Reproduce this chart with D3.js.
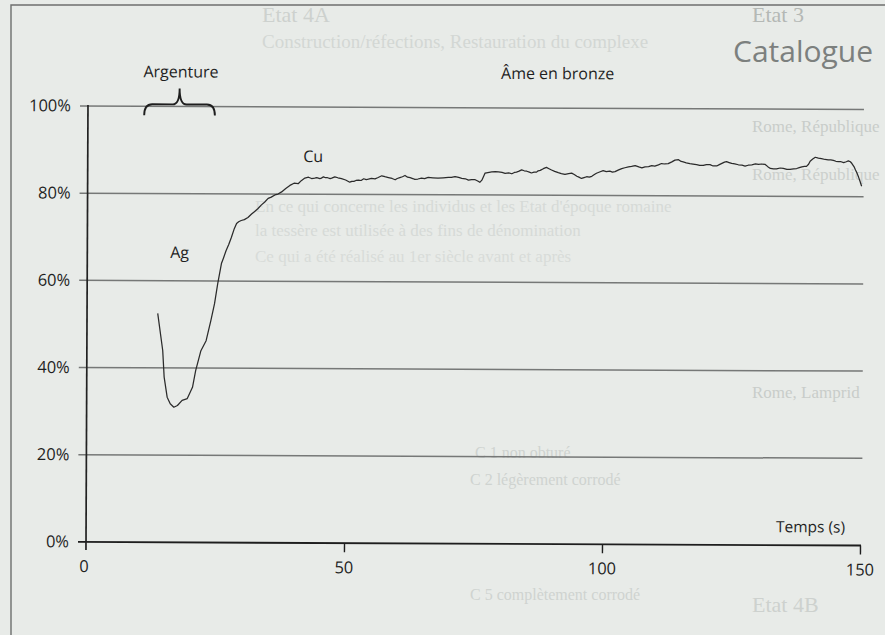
<!DOCTYPE html>
<html>
<head>
<meta charset="utf-8">
<script src="https://cdn.jsdelivr.net/npm/d3@7/dist/d3.min.js"></script>
<style>
  html, body { margin: 0; padding: 0; background: #e8ebe8; }
  svg { display: block; }
</style>
</head>
<body>
<div id="chart"></div>
<script>
// ── Data ───────────────────────────────────────────────────────────────────
const TIME = [
  13.7, 14.7, 15.0, 15.6, 16.2, 16.9, 17.6, 18.5, 19.5, 20.5,
  21.1, 22.1, 23.1, 24.0, 24.7, 25.3, 26.0, 26.4, 26.9, 27.4,
  27.9, 28.4, 28.9, 29.3, 29.8, 30.4, 31.1, 31.8, 32.4, 33.0,
  33.7, 34.3, 35.0, 35.6, 36.3, 36.9, 37.6, 38.4, 39.2, 40.0,
  40.8, 41.4, 42.1, 42.8, 43.4, 44.0, 44.4, 45.0, 45.3, 45.7,
  46.1, 46.5, 47.0, 47.3, 47.9, 48.5, 49.2, 50.0, 50.8, 51.2,
  51.6, 52.0, 52.5, 53.0, 53.5, 54.0, 54.4, 55.0, 55.7, 56.3,
  57.0, 57.6, 58.3, 59.0, 59.6, 60.0, 60.5, 61.0, 61.5, 62.0,
  62.5, 63.0, 63.4, 64.0, 64.7, 65.3, 66.0, 66.9, 67.9, 68.9,
  69.9, 70.5, 71.2, 71.9, 72.5, 73.2, 73.8, 74.4, 75.1, 75.6,
  76.0, 76.4, 76.7, 77.0, 77.3, 78.3, 79.0, 79.6, 80.3, 80.9,
  81.6, 82.2, 82.7, 83.1, 83.6, 84.1, 84.6, 85.1, 85.6, 86.0,
  86.5, 87.0, 87.3, 87.7, 88.3, 88.9, 89.4, 89.9, 90.5, 91.2,
  91.8, 92.5, 93.2, 93.8, 94.3, 94.8, 95.2, 95.7, 96.2, 96.7,
  97.2, 97.7, 98.2, 98.6, 99.2, 99.9, 100.5, 101.2, 101.7, 102.2,
  102.9, 103.5, 104.1, 104.8, 105.4, 106.1, 106.8, 107.4, 108.0, 108.7,
  109.3, 109.9, 110.6, 111.2, 111.8, 112.5, 113.2, 113.8, 114.5, 115.0,
  115.4, 116.0, 116.7, 117.3, 118.0, 118.6, 119.3, 119.9, 120.6, 121.2,
  121.9, 122.4, 122.9, 123.4, 123.8, 124.3, 124.8, 125.4, 126.1, 126.8,
  127.4, 128.0, 128.7, 129.4, 130.0, 130.6, 131.3, 131.8, 132.3, 132.9,
  133.5, 134.2, 134.8, 135.5, 136.1, 136.8, 137.4, 137.9, 138.4, 138.9,
  139.3, 139.7, 140.0, 140.5, 141.0, 141.6, 142.2, 142.9, 143.5, 144.0,
  144.5, 145.0, 145.5, 146.0, 146.5, 147.0, 147.4, 147.8, 148.1, 148.5,
  148.8, 149.1, 149.4, 149.7, 150.0,
];
const PCT = [
  52.5, 44.0, 37.9, 33.3, 31.8, 31.0, 31.4, 32.6, 33.0, 35.6,
  39.4, 44.0, 46.3, 50.9, 54.8, 59.4, 64.0, 65.3, 67.0, 68.4,
  70.0, 71.8, 73.2, 73.6, 73.9, 74.1, 74.6, 75.4, 76.0, 76.6,
  77.5, 78.1, 79.0, 79.3, 79.8, 80.0, 80.5, 81.3, 82.0, 82.5,
  82.4, 83.1, 83.7, 83.9, 83.6, 83.7, 83.8, 83.6, 83.7, 84.0,
  83.8, 83.8, 83.6, 83.7, 84.0, 83.8, 83.6, 83.3, 82.8, 83.0,
  83.0, 83.2, 83.3, 83.2, 83.6, 83.4, 83.5, 83.7, 83.6, 83.9,
  84.3, 84.1, 83.9, 83.7, 83.4, 83.7, 83.9, 84.1, 84.4, 84.0,
  83.9, 83.7, 83.5, 83.6, 83.8, 83.7, 84.0, 83.9, 83.8, 83.9,
  84.0, 84.0, 84.2, 84.0, 83.8, 83.7, 83.4, 83.5, 83.5, 83.2,
  82.9, 83.4, 84.2, 85.0, 85.1, 85.3, 85.4, 85.3, 85.2, 85.0,
  85.1, 84.9, 85.2, 85.3, 85.5, 85.8, 85.6, 85.5, 85.3, 85.1,
  85.3, 85.3, 85.6, 85.7, 86.1, 86.4, 86.1, 85.8, 85.5, 85.2,
  85.0, 84.8, 85.0, 85.1, 84.8, 84.4, 84.2, 83.9, 84.1, 84.3,
  84.2, 84.4, 84.8, 85.1, 85.4, 85.7, 85.5, 85.6, 85.4, 85.5,
  85.9, 86.2, 86.4, 86.6, 86.7, 86.9, 86.6, 86.4, 86.6, 86.7,
  86.9, 86.8, 87.1, 87.4, 87.3, 87.4, 87.8, 88.2, 88.3, 87.9,
  87.8, 87.6, 87.4, 87.3, 87.2, 87.0, 87.0, 87.2, 87.2, 86.9,
  86.9, 87.2, 87.5, 87.8, 87.9, 87.7, 87.5, 87.4, 87.2, 87.1,
  86.9, 87.1, 87.2, 87.4, 87.3, 87.4, 87.3, 86.8, 86.4, 86.3,
  86.3, 86.5, 86.4, 86.2, 86.2, 86.3, 86.4, 86.6, 86.8, 86.9,
  86.9, 87.4, 88.1, 88.6, 89.0, 88.8, 88.7, 88.5, 88.4, 88.4,
  88.3, 88.1, 88.0, 88.0, 87.8, 88.0, 88.2, 88.0, 87.6, 86.9,
  86.1, 85.4, 84.5, 83.5, 82.4,
];
const Y_TICKS = [0, 20, 40, 60, 80, 100];
const X_TICKS = [0, 50, 100, 150];
const X_TITLE = 'Temps (s)';
const PHASES = [
  { label: 'Argenture', t: 18 },
  { label: 'Âme en bronze', t: 91 },
];
const BRACE_SPAN = [10.9, 24.6];   // time range under "Argenture"
const ELEMENTS = [
  { label: 'Cu', t: 43.7, v: 87.4 },
  { label: 'Ag', t: 17.9, v: 65.2 },
];

// faint print showing through from the other side of the page
const GHOST = [
  { text: 'Etat 3', x: 752, y: 22, size: 22, color: '#b4b8b5' },
  { text: 'Etat 4A', x: 262, y: 22, size: 22, color: '#cdd1ce' },
  { text: 'Construction/réfections, Restauration du complexe', x: 262, y: 48, size: 19, color: '#d3d7d4' },
  { text: 'Rome, République', x: 752, y: 132, size: 17, color: '#c9cdca' },
  { text: 'Rome, République', x: 752, y: 180, size: 17, color: '#ccd0cd' },
  { text: 'En ce qui concerne les individus et les Etat d\'époque romaine', x: 255, y: 212, size: 17, color: '#d6dad7' },
  { text: 'la tessère est utilisée à des fins de dénomination', x: 255, y: 236, size: 17, color: '#d6dad7' },
  { text: 'Ce qui a été réalisé au 1er siècle avant et après', x: 255, y: 262, size: 17, color: '#d8dcd9' },
  { text: 'Rome, Lamprid', x: 752, y: 398, size: 17, color: '#c9cdca' },
  { text: 'C 1   non obturé', x: 475, y: 458, size: 16, color: '#cfd3d0' },
  { text: 'C 2   légèrement corrodé', x: 470, y: 485, size: 16, color: '#cfd3d0' },
  { text: 'C 5   complètement corrodé', x: 470, y: 600, size: 16, color: '#cfd3d0' },
  { text: 'Etat 4B', x: 752, y: 612, size: 22, color: '#cdd1ce' },
];
const GHOST_TITLE = { text: 'Catalogue', x: 733, y: 62, size: 30, color: '#7c807e' };

// ── Layout ─────────────────────────────────────────────────────────────────
const W = 885, H = 635;
const X0 = 86, X1 = 860, Y0 = 542, Y1 = 106;
const INK = '#1f1f1f';
const FONT = '"Open Sans", "Noto Sans", sans-serif';

const svg = d3.select('#chart').append('svg').attr('width', W).attr('height', H);

svg.append('rect').attr('width', W).attr('height', H).attr('fill', '#e8ebe8');

svg.append('g').selectAll('text')
  .data(GHOST)
  .join('text')
  .attr('x', d => d.x)
  .attr('y', d => d.y)
  .attr('font-family', '"Liberation Serif", "DejaVu Serif", serif')
  .attr('font-size', d => d.size)
  .attr('fill', d => d.color)
  .text(d => d.text);

svg.append('text')
  .attr('x', GHOST_TITLE.x).attr('y', GHOST_TITLE.y)
  .attr('font-family', FONT)
  .attr('font-size', GHOST_TITLE.size)
  .attr('fill', GHOST_TITLE.color)
  .text(GHOST_TITLE.text);

// page frame
svg.append('path')
  .attr('d', `M11,${H} L11,5 L${W},5`)
  .attr('fill', 'none')
  .attr('stroke', '#6d6f6e')
  .attr('stroke-width', 1.4);

const x = d3.scaleLinear().domain([0, 150]).range([X0, X1]);
const y = d3.scaleLinear().domain([0, 100]).range([Y0, Y1]);

// the scan is very slightly rotated clockwise
const g = svg.append('g').attr('transform', `rotate(0.26 ${X0} ${Y0})`);

// horizontal grid lines, with a short stub left of the axis
g.append('g').selectAll('line')
  .data(Y_TICKS.filter(v => v > 0))
  .join('line')
  .attr('x1', X0 - 8).attr('x2', X1 + 2)
  .attr('y1', d => y(d)).attr('y2', d => y(d))
  .attr('stroke', '#767877')
  .attr('stroke-width', 1.5);

// x axis
const xAxis = g.append('g')
  .attr('transform', `translate(0,${Y0})`)
  .call(d3.axisBottom(x).tickValues(X_TICKS.filter(v => v > 0)).tickSize(9).tickFormat(''));
xAxis.select('.domain').attr('d', `M${X0 - 8},0H${X1 + 1}`).attr('stroke', '#1e1e1e').attr('stroke-width', 1.8);
xAxis.selectAll('.tick line').attr('stroke', '#1e1e1e').attr('stroke-width', 1.4);

// y axis line (runs a little below the x axis)
g.append('line')
  .attr('x1', X0).attr('x2', X0)
  .attr('y1', Y1 - 1).attr('y2', Y0 + 8)
  .attr('stroke', '#222')
  .attr('stroke-width', 1.7);

// tick labels
g.append('g').selectAll('text')
  .data(Y_TICKS)
  .join('text')
  .attr('x', X0 - 17)
  .attr('y', d => y(d) + 5.5)
  .attr('text-anchor', 'end')
  .attr('font-family', FONT).attr('font-size', 16.5).attr('fill', INK)
  .text(d => d + '%');

g.append('g').selectAll('text')
  .data(X_TICKS)
  .join('text')
  .attr('x', d => x(d) + (d === 0 ? -2 : 0))
  .attr('y', Y0 + 30)
  .attr('text-anchor', 'middle')
  .attr('font-family', FONT).attr('font-size', 16.5).attr('fill', INK)
  .text(d => d);

g.append('text')
  .attr('x', X1 - 15)
  .attr('y', Y0 - 13)
  .attr('text-anchor', 'end')
  .attr('font-family', FONT).attr('font-size', 15.5).attr('fill', INK)
  .text(X_TITLE);

// profile curve
const pts = TIME.map((t, i) => [t, PCT[i]]);
g.append('path')
  .datum(pts)
  .attr('d', d3.line().x(d => x(d[0])).y(d => y(d[1])))
  .attr('fill', 'none')
  .attr('stroke', '#2b2b2b')
  .attr('stroke-width', 1.25)
  .attr('stroke-linejoin', 'round');

// element labels
g.append('g').selectAll('text')
  .data(ELEMENTS)
  .join('text')
  .attr('x', d => x(d.t))
  .attr('y', d => y(d.v))
  .attr('text-anchor', 'middle')
  .attr('font-family', FONT).attr('font-size', 16).attr('fill', INK)
  .text(d => d.label);

// phase labels
g.append('g').selectAll('text')
  .data(PHASES)
  .join('text')
  .attr('x', d => x(d.t))
  .attr('y', 77)
  .attr('text-anchor', 'middle')
  .attr('font-family', FONT).attr('font-size', 16).attr('fill', INK)
  .text(d => d.label);

// curly brace under "Argenture"
const bx0 = x(BRACE_SPAN[0]), bx1 = x(BRACE_SPAN[1]), bm = (bx0 + bx1) / 2;
const by = y(100) - 2;
g.append('path')
  .attr('d', `M${bx0},${by + 11} Q${bx0},${by} ${bx0 + 8},${by} L${bm - 7},${by} Q${bm},${by} ${bm},${by - 16}`
           + ` Q${bm},${by} ${bm + 7},${by} L${bx1 - 8},${by} Q${bx1},${by} ${bx1},${by + 11}`)
  .attr('fill', 'none')
  .attr('stroke', '#1e1e1e')
  .attr('stroke-width', 1.9);
</script>
</body>
</html>
